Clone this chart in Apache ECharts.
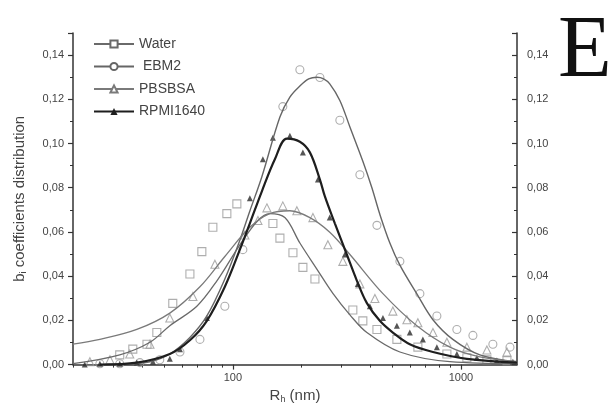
<!DOCTYPE html>
<html><head><meta charset="utf-8">
<script src="https://cdn.jsdelivr.net/npm/echarts@6/dist/echarts.min.js"></script>
<style>html,body{margin:0;padding:0;background:#fff}#c{width:609px;height:409px}</style>
</head><body><div id="c"></div>
<script>
// ---- data (R_h in nm, b coefficient) ----
const seriesNames = ['Water', 'EBM2', 'PBSBSA', 'RPMI1640'];
const xRange = [19.9, 1762];
const xMajorTicks = [100, 1000];
const xMinorTicks = [20, 30, 40, 50, 60, 70, 80, 90, 200, 300, 400, 500, 600, 700, 800, 900];
const yMajorTicks = [0, 0.02, 0.04, 0.06, 0.08, 0.10, 0.12, 0.14];

const waterFit = [[19.9,0.0004],[31.9,0.0044],[43.3,0.0101],[52.9,0.0176],[69.5,0.0264],[85.1,0.0379],[107.3,0.0542],[128.8,0.0652],[145,0.0683],[169,0.0665],[196.7,0.055],[233.5,0.0432],[275,0.0321],[326,0.0225],[387,0.0145],[540,0.0057],[895,0.0013],[1762,0.0004]];
const ebm2Fit = [[31.9,0],[43.3,0.0013],[52.9,0.0048],[64.8,0.0123],[76.9,0.022],[92.2,0.0387],[107.3,0.0563],[118.7,0.0695],[134,0.085],[160.8,0.112],[177.8,0.121],[196.7,0.126],[215,0.1292],[233.5,0.130],[250,0.1293],[266,0.127],[294.5,0.1195],[326,0.1075],[371.5,0.092],[407,0.080],[441,0.068],[488,0.055],[540,0.045],[641,0.032],[754,0.0203],[922,0.0114],[1211,0.0044],[1762,0.0013]];
const pbsFit = [[19.9,0.0093],[26.1,0.0114],[37.9,0.0159],[52.9,0.0233],[71.7,0.0352],[92.2,0.0489],[118.7,0.0621],[145,0.0683],[177.8,0.0696],[217.6,0.0665],[266,0.0599],[326,0.0498],[455,0.0321],[641,0.0176],[895,0.0079],[1211,0.0035],[1762,0.0013]];
const rpmiFit = [[26.1,0],[37.9,0.0009],[52.9,0.0048],[64.8,0.011],[76.9,0.0198],[92.2,0.0352],[107.3,0.052],[118.7,0.0639],[134,0.0784],[152.8,0.0929],[172.5,0.1022],[196.7,0.1008],[217.6,0.096],[240.8,0.0837],[253,0.0762],[280,0.0639],[316,0.0498],[350,0.0379],[387,0.0278],[441,0.0198],[503,0.0145],[597,0.0092],[754,0.0057],[1062,0.0026],[1762,0.0009]];

const waterPts = [[31.9,0.0044],[36.4,0.007],[42.0,0.0092],[46.4,0.0145],[54.5,0.0277],[64.8,0.041],[73.1,0.0511],[81.7,0.0621],[94.1,0.0683],[104.1,0.0727],[149.8,0.0638],[160.8,0.0572],[183.4,0.0506],[202.8,0.044],[229,0.0387],[335.8,0.0247],[371.5,0.0198],[428.3,0.0159],[523.9,0.0114],[647.6,0.0079],[868,0.0048],[1062,0.0031],[1300,0.0022],[1592,0.0018]];
const ebm2Pts = [[26.1,0.0004],[31.9,0.0004],[39.1,0.0009],[47.8,0.0022],[58.6,0.0057],[71.7,0.0114],[92.2,0.0264],[110.6,0.052],[165.6,0.1167],[196.7,0.1334],[240.8,0.1299],[294.5,0.1105],[360.6,0.0859],[428.3,0.063],[540,0.0467],[660.9,0.0321],[784.6,0.022],[960,0.0159],[1129,0.0132],[1381,0.0092],[1641,0.0079]];
const pbsPts = [[23.6,0.0013],[28.9,0.0022],[35.3,0.0048],[43.3,0.0092],[52.9,0.0211],[66.8,0.0308],[83.4,0.0454],[112.9,0.0586],[128.8,0.0652],[141,0.0709],[165.6,0.0718],[190.8,0.0696],[224.4,0.0665],[261,0.0542],[303.6,0.0467],[360.6,0.0365],[419.6,0.0299],[503,0.0242],[579.6,0.0203],[647.6,0.0189],[754,0.0145],[868,0.0101],[1062,0.0079],[1300,0.0066],[1592,0.0057]];
const rpmiPts = [[22.4,0],[26.1,0.0004],[31.9,0.0004],[37.9,0.0009],[44.6,0.0013],[52.9,0.0026],[58.6,0.007],[76.9,0.0211],[118.7,0.0753],[135.4,0.0929],[149.8,0.1026],[177.8,0.1035],[202.8,0.096],[236,0.0837],[266,0.0665],[309.8,0.0498],[353,0.0365],[398.8,0.0264],[455,0.0211],[523.9,0.0176],[597,0.0145],[681,0.0114],[784.6,0.0079],[960,0.0048],[1175,0.0031],[1438,0.0018],[1690,0.0013]];

// ---- build ----
const lg = v => Math.log10(v);
const toLog = arr => arr.map(p => [lg(p[0]), p[1]]);
const FONT = '"Liberation Sans", Arial, sans-serif';
const fits = [waterFit, ebm2Fit, pbsFit, rpmiFit];
const pts = [waterPts, ebm2Pts, pbsPts, rpmiPts];
const lineColors = ['#6a6a6a', '#666666', '#7a7a7a', '#1e1e1e'];
const lineWidths = [1.3, 1.4, 1.3, 2.2];
const legendSymbols = ['emptyRect', 'emptyCircle', 'emptyTriangle', 'triangle'];
const ptSymbols = ['rect', 'circle', 'triangle', 'triangle'];

const series = [];
seriesNames.forEach((n, i) => {
  series.push({
    name: n, type: 'line', data: toLog(fits[i]), smooth: 0.35,
    showSymbol: false, symbol: legendSymbols[i], symbolSize: 7,
    lineStyle: { color: lineColors[i], width: lineWidths[i] },
    itemStyle: { color: lineColors[i] }, z: 3
  });
});
seriesNames.forEach((n, i) => {
  const filled = i === 3;
  series.push({
    name: n, type: 'scatter', data: toLog(pts[i]), symbol: ptSymbols[i],
    symbolSize: filled ? 6 : 8,
    itemStyle: filled ? { color: '#2a2a2a' } : { color: 'rgba(255,255,255,0)', borderColor: '#9a9a9a', borderWidth: 1.1 },
    z: 2
  });
});

const yAxisBase = (pos) => ({
  type: 'value', position: pos, min: 0, max: 0.15, interval: 0.02,
  axisLine: { show: true, lineStyle: { color: '#333', width: 1.5 } },
  axisTick: { show: true, inside: pos === 'right', length: 5, lineStyle: { color: '#333', width: 1.2 } },
  minorTick: { show: true, splitNumber: 2, length: 3, lineStyle: { color: '#333', width: 1 } },
  axisLabel: { fontSize: 11, color: '#444', fontFamily: FONT, margin: pos === 'right' ? 10 : 9,
    formatter: v => v > 0.141 ? '' : v.toFixed(2).replace('.', ',') },
  splitLine: { show: false }
});

const option = {
  animation: false,
  backgroundColor: '#fff',
  grid: { left: 73, right: 92, top: 33, bottom: 36 },
  legend: {
    data: seriesNames, orient: 'vertical', left: 88, top: 32,
    itemWidth: 40, itemHeight: 9, itemGap: 8.5,
    textStyle: { fontSize: 14, color: '#444', fontFamily: FONT },
    formatter: n => n === 'EBM2' ? ' EBM2' : n
  },
  xAxis: [{
    type: 'value', min: lg(xRange[0]), max: lg(xRange[1]), position: 'bottom',
    axisLine: { show: true, onZero: false, lineStyle: { color: '#333', width: 1.5 } },
    axisTick: { show: true, customValues: xMajorTicks.map(lg), length: 5, lineStyle: { color: '#333', width: 1.2 } },
    axisLabel: { customValues: xMajorTicks.map(lg), fontSize: 11, color: '#444', fontFamily: FONT, margin: 8,
      formatter: v => String(Math.round(Math.pow(10, v))) },
    splitLine: { show: false },
    name: '{m|R}{s|h}{m| (nm)}', nameLocation: 'middle', nameGap: 18,
    nameTextStyle: { rich: { m: { fontSize: 15, color: '#444', fontFamily: FONT }, s: { fontSize: 9, color: '#444', fontFamily: FONT, padding: [7, 0, 0, 0] } } }
  }, {
    type: 'value', min: lg(xRange[0]), max: lg(xRange[1]), position: 'bottom',
    axisLine: { show: false, onZero: false },
    axisTick: { show: true, customValues: xMinorTicks.map(lg), length: 3, lineStyle: { color: '#333', width: 1 } },
    axisLabel: { show: false }, splitLine: { show: false }
  }],
  yAxis: [
    Object.assign(yAxisBase('left'), {
      name: '{m|b}{s|i}{m| coefficients distribution}', nameLocation: 'middle', nameGap: 45,
      nameTextStyle: { rich: { m: { fontSize: 15, color: '#444', fontFamily: FONT }, s: { fontSize: 9, color: '#444', fontFamily: FONT, padding: [7, 0, 0, 0] } } }
    }),
    yAxisBase('right')
  ],
  graphic: [{
    type: 'text', left: 558, top: 9,
    style: { text: 'E', font: '88px "Liberation Serif", "Times New Roman", serif', fill: '#111' }
  }],
  series: series
};
series.forEach(s => { s.xAxisIndex = 0; s.yAxisIndex = 0; });
const chart = echarts.init(document.getElementById('c'), null, { renderer: 'canvas' });
chart.setOption(option);
</script>
</body></html>
